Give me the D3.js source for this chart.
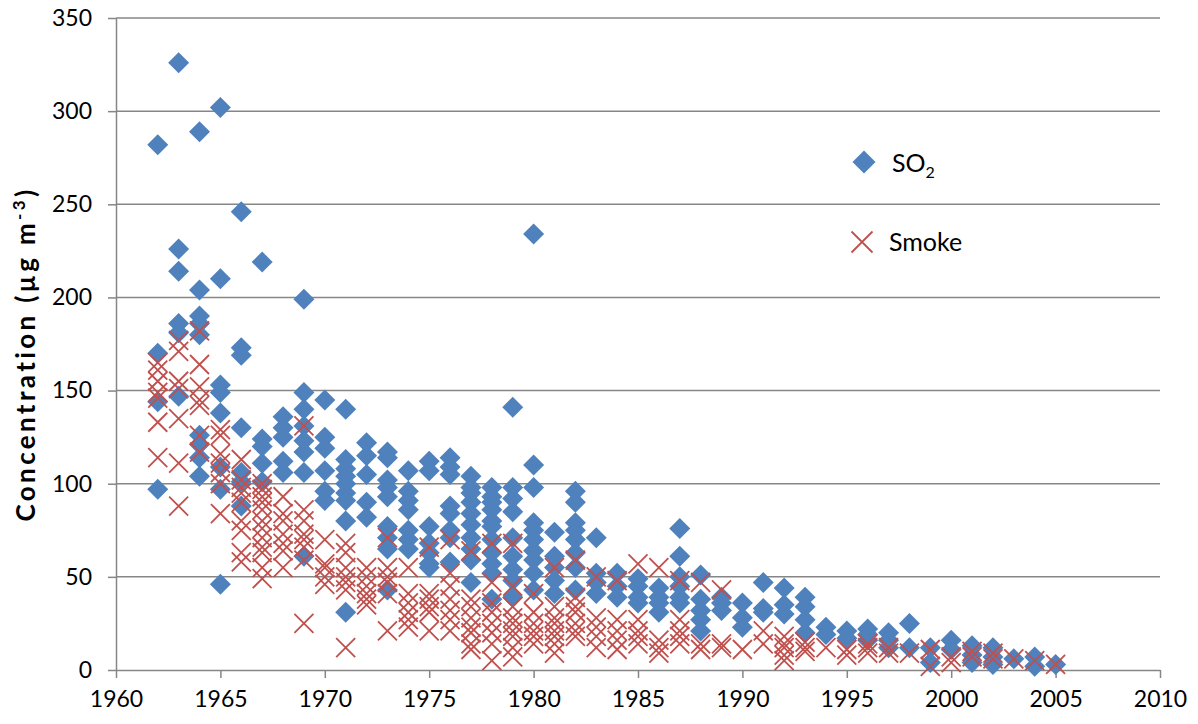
<!DOCTYPE html>
<html>
<head>
<meta charset="utf-8">
<script src="https://cdn.jsdelivr.net/npm/d3@7/dist/d3.min.js"></script>
<style>
  html, body { margin: 0; padding: 0; background: #fff; }
  svg { display: block; }
  text { font-family: Lato, "Open Sans", sans-serif; fill: #000; }
</style>
</head>
<body>
<svg id="chart" width="1198" height="724"></svg>
<script>
// Annual concentrations measured at a set of monitoring sites (µg m-3)
const years = [1962,1963,1964,1965,1966,1967,1968,1969,1970,1971,1972,1973,1974,1975,
  1976,1977,1978,1979,1980,1981,1982,1983,1984,1985,1986,1987,1988,1989,1990,1991,
  1992,1993,1994,1995,1996,1997,1998,1999,2000,2001,2002,2003,2004,2005];

const so2 = [
  [282,170,144,97],
  [326,226,214,186,181,147],
  [289,204,190,186,180,126,121,114,104],
  [302,210,153,149,138,109,97,46],
  [246,173,169,130,106,101,88],
  [219,124,120,111,101],
  [136,130,125,112,106],
  [199,149,140,131,123,117,106,61],
  [145,125,119,107,96,91],
  [140,113,108,104,100,95,91,80,31],
  [122,115,105,90,82],
  [117,114,102,98,93,77,71,65,43],
  [107,96,91,86,75,70,65],
  [112,107,77,68,63,57,55],
  [114,109,105,88,84,75,71,58],
  [104,98,95,90,84,78,71,65,59,47],
  [98,93,90,86,80,77,70,63,57,52,38],
  [141,98,92,85,71,61,54,48,39],
  [234,110,98,79,75,70,64,59,52,43],
  [74,61,55,48,41],
  [96,90,79,75,70,63,55,43],
  [71,52,47,41],
  [52,45,39],
  [49,45,39,36],
  [44,39,36,31],
  [76,61,50,45,39,36],
  [51,38,32,27,21],
  [39,36,32],
  [36,28,23],
  [47,33,31],
  [44,35,30],
  [39,34,27,20],
  [23,19],
  [21,17],
  [22,19,16],
  [20,16,12],
  [25,12],
  [12,4],
  [16,11],
  [13,8,4],
  [12,7,3],
  [6],
  [7,2],
  [3]
];

const smoke = [
  [165,161,155,149,146,133,114],
  [177,171,155,151,135,111,88],
  [182,164,152,145,142,126,117],
  [129,126,116,111,106,100,84],
  [113,102,98,95,90,80,75,63,58],
  [100,97,93,90,86,80,76,71,66,63,55,49],
  [93,84,80,73,68,64,55],
  [131,86,80,73,70,66,59,25],
  [70,57,55,50,46],
  [68,63,55,50,47,43,12],
  [55,50,45,41,38,35],
  [71,55,50,47,41,21],
  [55,41,36,31,27,23],
  [66,41,38,34,31,21],
  [70,52,45,38,32,27,21],
  [64,38,34,28,23,20,14,11],
  [68,47,36,31,25,20,14,5],
  [68,45,34,28,25,21,18,12,7],
  [41,31,25,21,18,14],
  [55,34,28,25,21,18,14,9],
  [59,39,34,31,25,21,18],
  [50,28,23,18,12],
  [48,27,21,16,11],
  [57,27,21,18,14],
  [55,16,12,9],
  [48,27,21,18,14],
  [47,14,11],
  [43,14,12],
  [11],
  [21,14],
  [18,14,12,8,5],
  [15,12,10],
  [12],
  [11,8],
  [14,12,9],
  [12,9],
  [9],
  [11,2],
  [7,4],
  [10,7],
  [9,6],
  [6],
  [5],
  [3]
];

const xTicks = [1960,1965,1970,1975,1980,1985,1990,1995,2000,2005,2010];
const yTicks = [0,50,100,150,200,250,300,350];

const svg = d3.select("#chart");
const plotLeft = 116, plotRight = 1160, plotTop = 18, plotBottom = 670;

const x = d3.scaleLinear().domain([1960, 2010]).range([plotLeft, plotRight]);
const y = d3.scaleLinear().domain([0, 350]).range([plotBottom, plotTop]);

const gridColor = "#868686";
const tickFont = "23px";

// horizontal gridlines
svg.append("g").selectAll("line").data(yTicks.filter(d => d > 0)).join("line")
  .attr("x1", plotLeft).attr("x2", plotRight)
  .attr("y1", d => y(d)).attr("y2", d => y(d))
  .attr("stroke", gridColor).attr("stroke-width", 1.5);

// y axis
const yAxis = svg.append("g").attr("transform", `translate(${plotLeft},0)`)
  .call(d3.axisLeft(y).tickValues(yTicks).tickSize(8).tickPadding(16).tickSizeOuter(0));
yAxis.select(".domain").attr("stroke", gridColor).attr("stroke-width", 1.5);
yAxis.selectAll(".tick line").attr("stroke", gridColor).attr("stroke-width", 1.5);
yAxis.selectAll(".tick text").style("font-size", tickFont).style("font-family", "Lato, sans-serif").attr("fill", "#000");

// x axis
const xAxis = svg.append("g").attr("transform", `translate(0,${plotBottom})`)
  .call(d3.axisBottom(x).tickValues(xTicks).tickFormat(d3.format("d")).tickSize(8).tickPadding(13).tickSizeOuter(0));
xAxis.select(".domain").attr("stroke", gridColor).attr("stroke-width", 1.5);
xAxis.selectAll(".tick line").attr("stroke", gridColor).attr("stroke-width", 1.5);
xAxis.selectAll(".tick text").style("font-size", tickFont).style("font-family", "Lato, sans-serif").attr("fill", "#000");

// flatten the per-year lists into points
const toPoints = series => years.flatMap((yr, i) => series[i].map(v => ({ year: yr, value: v })));

const diamond = "M0,-10.5L10.5,0L0,10.5L-10.5,0Z";
const cross = "M-9.5,-9.5L9.5,9.5M-9.5,9.5L9.5,-9.5";

// SO2 diamonds
svg.append("g").selectAll("path").data(toPoints(so2)).join("path")
  .attr("d", diamond)
  .attr("transform", d => `translate(${x(d.year)},${y(d.value)})`)
  .attr("fill", "#4F81BD");

// smoke crosses, drawn over the diamonds
svg.append("g").selectAll("path").data(toPoints(smoke)).join("path")
  .attr("d", cross)
  .attr("transform", d => `translate(${x(d.year)},${y(d.value)})`)
  .attr("fill", "none").attr("stroke", "#C0504D").attr("stroke-width", 1.8);

// legend
const lg = svg.append("g");
lg.append("path").attr("d", "M0,-11.5L11.5,0L0,11.5L-11.5,0Z").attr("transform", "translate(864,162)").attr("fill", "#4F81BD");
const t1 = lg.append("text").attr("x", 892).attr("y", 172).style("font-size", "25px");
t1.append("tspan").text("SO");
t1.append("tspan").attr("dy", 6).style("font-size", "16px").text("2");
lg.append("path").attr("d", "M-10.5,-10.5L10.5,10.5M-10.5,10.5L10.5,-10.5").attr("transform", "translate(862,242)")
  .attr("fill", "none").attr("stroke", "#C0504D").attr("stroke-width", 1.8);
lg.append("text").attr("x", 889).attr("y", 251).style("font-size", "25px").text("Smoke");

// y axis title, spread to its full length along the axis
const yt = svg.append("text")
  .attr("transform", "translate(35,354) rotate(-90)")
  .attr("text-anchor", "middle")
  .style("font-size", "26px").style("font-weight", "bold");
yt.append("tspan").text("Concentration (µg m");
yt.append("tspan").attr("dy", -10).style("font-size", "17px").text("-3");
yt.append("tspan").attr("dy", 10).text(")");
const natural = yt.node().getComputedTextLength();
const titleLength = 332;
const nChars = "Concentration (µg m-3)".length;
if (natural < titleLength) {
  yt.style("letter-spacing", ((titleLength - natural) / (nChars - 1)) + "px");
}
</script>
</body>
</html>
